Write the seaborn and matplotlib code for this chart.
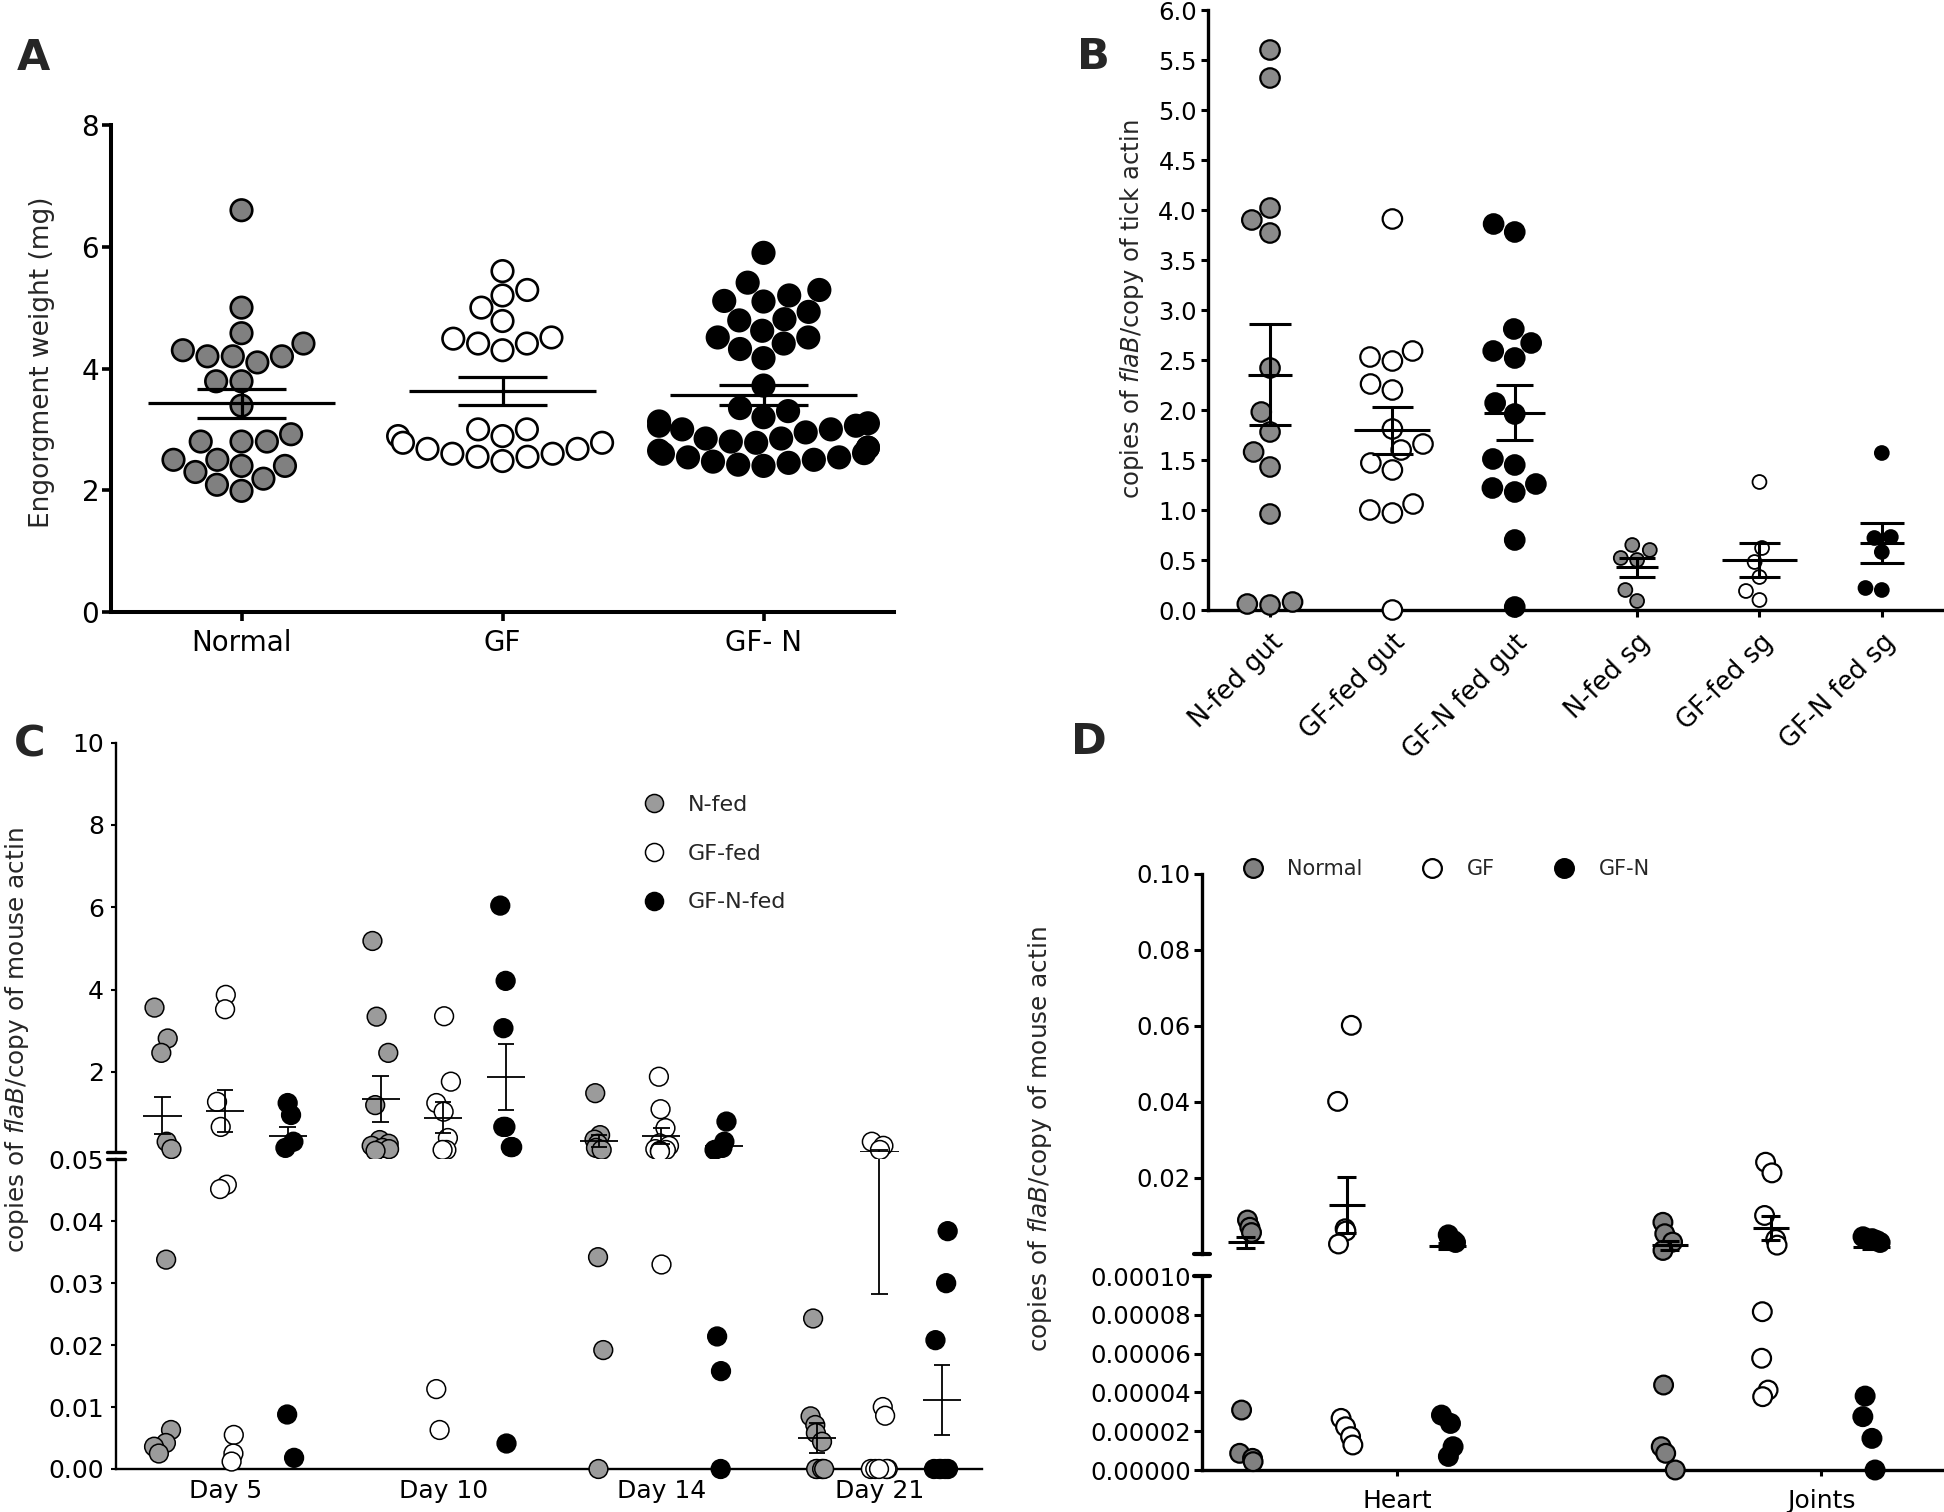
import numpy as np
import pandas as pd
import matplotlib
matplotlib.use("Agg")
import matplotlib.pyplot as plt
import seaborn as sns
from matplotlib.lines import Line2D
from matplotlib.ticker import FormatStrFormatter

sns.set_theme(style="ticks")
plt.rcParams['font.family'] = ['DejaVu Sans']
plt.rcParams['mathtext.fontset'] = 'dejavusans'
np.random.seed(7)

# ---------------- data ----------------
# Panel A: engorgement weight (mg)
A_GROUPS = ["Normal", "GF", "GF- N"]
A_NORMAL = [6.6, 5.0, 4.58, 4.41, 4.3, 4.2, 4.2, 4.2, 4.1, 3.79, 3.79, 3.39, 2.92,
            2.8, 2.8, 2.8, 2.5, 2.5, 2.4, 2.4, 2.3, 2.19, 2.09, 1.99]
A_GF = [5.6, 5.29, 5.2, 5.0, 4.78, 4.51, 4.49, 4.41, 4.41, 4.3, 3.0, 3.0, 2.89,
        2.89, 2.78, 2.78, 2.68, 2.68, 2.6, 2.6, 2.55, 2.55, 2.48]
A_GFN = [5.9, 5.41, 5.29, 5.2, 5.11, 5.1, 4.93, 4.81, 4.79, 4.62, 4.51, 4.51, 4.41,
         4.32, 4.17, 3.72, 3.35, 3.3, 3.2, 3.13, 3.1, 3.06, 3.06, 3.0, 3.0, 2.95,
         2.85, 2.85, 2.8, 2.78, 2.7, 2.7, 2.65, 2.61, 2.6, 2.54, 2.54, 2.5, 2.47,
         2.45, 2.42, 2.4]

# Panel B: copies of flaB / copy of tick actin
B_GROUPS = ["N-fed gut", "GF-fed gut", "GF-N fed gut", "N-fed sg", "GF-fed sg", "GF-N fed sg"]
B_N_GUT = [5.6, 5.32, 4.02, 3.9, 3.77, 2.42, 1.98, 1.78, 1.58, 1.43, 0.96, 0.06, 0.08, 0.05]
B_GF_GUT = [3.91, 2.59, 2.53, 2.49, 2.26, 2.2, 1.81, 1.66, 1.6, 1.47, 1.4, 1.06, 1.0, 0.97, 0.0]
B_GFN_GUT = [3.86, 3.78, 2.81, 2.67, 2.59, 2.52, 2.07, 1.96, 1.51, 1.45, 1.26, 1.22, 1.18, 0.7, 0.03]
B_N_SG = [0.6, 0.65, 0.52, 0.5, 0.2, 0.09]
B_GF_SG = [1.28, 0.62, 0.48, 0.33, 0.19, 0.1]
B_GFN_SG = [1.57, 0.73, 0.72, 0.58, 0.2, 0.22]

# Panel C: copies of flaB / copy of mouse actin, by day
C_DAYS = ["Day 5", "Day 10", "Day 14", "Day 21"]
C_SERIES = ["N-fed", "GF-fed", "GF-N-fed"]
C_NFED = [[3.56, 2.81, 2.46, 0.30, 0.12, 0.0338, 0.0063, 0.0042, 0.0036, 0.0025],
          [5.18, 3.34, 2.46, 1.19, 0.34, 0.25, 0.2, 0.15, 0.12, 0.08],
          [1.48, 0.46, 0.35, 0.25, 0.15, 0.1, 0.0342, 0.0192, 0.0],
          [0.0243, 0.0085, 0.0071, 0.0058, 0.0044, 0.0, 0.0, 0.0, 0.0, 0.0]]
C_GFFED = [[3.87, 3.52, 1.27, 0.66, 0.0459, 0.0452, 0.0055, 0.0025, 0.0012],
           [3.35, 1.76, 1.24, 1.03, 0.39, 0.1, 0.1, 0.0129, 0.0063],
           [1.88, 1.09, 0.63, 0.26, 0.2, 0.12, 0.1, 0.08, 0.06, 0.0331],
           [0.3, 0.2, 0.1, 0.01, 0.0086, 0.0, 0.0, 0.0, 0.0, 0.0]]
C_GFNFED = [[1.24, 0.95, 0.30, 0.15, 0.0088, 0.0018],
            [6.04, 4.21, 3.06, 0.66, 0.66, 0.17, 0.17, 0.0042],
            [0.79, 0.3, 0.15, 0.1, 0.0214, 0.0158, 0.0],
            [0.0384, 0.030, 0.0208, 0.0, 0.0, 0.0, 0.0, 0.0]]

# Panel D: copies of flaB / copy of mouse actin, by tissue
D_TISSUES = ["Heart", "Joints"]
D_SERIES = ["Normal", "GF", "GF-N"]
D_NORMAL = [[0.0089, 0.007, 0.0056, 0.0000309, 0.0000086, 0.000006, 0.0000043],
            [0.0083, 0.0053, 0.0031, 0.0009, 0.0000438, 0.000012, 0.0000086, 0.0]]
D_GF = [[0.0601, 0.0401, 0.0066, 0.006, 0.0026, 0.0000266, 0.0000223, 0.0000172, 0.0000129],
        [0.0241, 0.0213, 0.0101, 0.0038, 0.0023, 0.0000816, 0.0000576, 0.0000412, 0.0000378]]
D_GFN = [[0.005, 0.0042, 0.0035, 0.003, 0.0000283, 0.000024, 0.000012, 0.000007],
         [0.0045, 0.004, 0.0035, 0.003, 0.0000381, 0.0000275, 0.0000163, 0.0]]

# ---------------- styles ----------------
GREY_A, GREY_B, GREY_C, GREY_D = "#808080", "#8a8a8a", "#9b9b9b", "#808080"
W, H = 1944, 1512

fig = plt.figure(figsize=(W / 100, H / 100), dpi=100)


def rect(left, top, right, bottom):
    return [left / W, 1 - bottom / H, (right - left) / W, (bottom - top) / H]


def style_axis(ax, lw, tlen, twidth, lsize, pad):
    sns.despine(ax=ax)
    for s in ("left", "bottom"):
        ax.spines[s].set_linewidth(lw)
        ax.spines[s].set_color("black")
    ax.tick_params(axis="both", length=tlen, width=twidth, labelsize=lsize,
                   pad=pad, color="black", labelcolor="black", direction="out")
    ax.grid(False)
    ax.set_xlabel("")
    ax.set_ylabel("")


def unclip(ax, z=3):
    for c in ax.collections:
        c.set_clip_on(False)
        c.set_zorder(z)


def mean_sem(ax, x, vals, mw, cw, lw):
    v = np.asarray(vals, dtype=float)
    m = v.mean()
    s = v.std(ddof=1) / np.sqrt(len(v))
    ax.hlines(m, x - mw / 2, x + mw / 2, color="black", lw=lw, zorder=5)
    ax.vlines(x, m - s, m + s, color="black", lw=lw, zorder=5)
    ax.hlines([m - s, m + s], x - cw / 2, x + cw / 2, color="black", lw=lw, zorder=5)


# ---------------- Panel A ----------------
axA = fig.add_axes(rect(111, 125, 894, 612))
dfA = pd.DataFrame({"group": np.repeat(A_GROUPS, [len(A_NORMAL), len(A_GF), len(A_GFN)]),
                    "weight": A_NORMAL + A_GF + A_GFN})
palA = {"Normal": GREY_A, "GF": "white", "GF- N": "black"}
sns.swarmplot(data=dfA, x="group", y="weight", hue="group", order=A_GROUPS,
              palette=palA, size=15.5, edgecolor="black", linewidth=1.9,
              legend=False, ax=axA, warn_thresh=1)
unclip(axA)
for i, g in enumerate(A_GROUPS):
    mean_sem(axA, i, dfA.loc[dfA.group == g, "weight"], 0.72, 0.34, 2.3)
axA.set_xlim(-0.5, 2.5)
axA.set_ylim(0, 8)
axA.set_yticks([0, 2, 4, 6, 8])
style_axis(axA, 2.9, 6.5, 2.6, 20, 2)
axA.tick_params(axis="x", pad=6)

# ---------------- Panel B ----------------
axB = fig.add_axes(rect(1208, 10, 1943, 610))
gut_vals = [B_N_GUT, B_GF_GUT, B_GFN_GUT]
sg_vals = [B_N_SG, B_GF_SG, B_GFN_SG]
dfB_gut = pd.DataFrame({"group": np.repeat(B_GROUPS[:3], [len(v) for v in gut_vals]),
                        "value": sum(gut_vals, [])})
dfB_sg = pd.DataFrame({"group": np.repeat(B_GROUPS[3:], [len(v) for v in sg_vals]),
                       "value": sum(sg_vals, [])})
palB = dict(zip(B_GROUPS, [GREY_B, "white", "black"] * 2))
sns.swarmplot(data=dfB_gut, x="group", y="value", hue="group", order=B_GROUPS,
              palette=palB, size=14, edgecolor="black", linewidth=1.6,
              legend=False, ax=axB, warn_thresh=1)
sns.swarmplot(data=dfB_sg, x="group", y="value", hue="group", order=B_GROUPS,
              palette=palB, size=10, edgecolor="black", linewidth=1.3,
              legend=False, ax=axB, warn_thresh=1)
unclip(axB)
MEAN_W_B = [0.36, 0.62, 0.5, 0.34, 0.62, 0.36]
CAP_W_B = [0.34, 0.34, 0.3, 0.3, 0.34, 0.36]
for i, v in enumerate(gut_vals + sg_vals):
    mean_sem(axB, i, v, MEAN_W_B[i], CAP_W_B[i], 2.2)
axB.set_xlim(-0.507, 5.5)
axB.set_ylim(0, 6)
axB.set_yticks(np.arange(0, 6.01, 0.5))
axB.yaxis.set_major_formatter(FormatStrFormatter("%.1f"))
style_axis(axB, 2.4, 5, 2.2, 17.5, 3)
axB.set_xticks(range(len(B_GROUPS)))
axB.set_xticklabels(B_GROUPS, rotation=45, ha="right", rotation_mode="anchor")
axB.tick_params(axis="x", pad=9, labelsize=18.5)

# ---------------- Panel C ----------------
rows = []
for si, (name, series) in enumerate(zip(C_SERIES, [C_NFED, C_GFFED, C_GFNFED])):
    for di, vals in enumerate(series):
        for v in vals:
            rows.append((di + (si - 1) * 0.287, name, v, di))
dfC = pd.DataFrame(rows, columns=["xpos", "series", "value", "day"])
palC = dict(zip(C_SERIES, [GREY_C, "white", "black"]))
C_BREAK = 0.05
axCu = fig.add_axes(rect(116, 742.7, 982, 1152))
axCl = fig.add_axes(rect(116, 1159.3, 982, 1469))
for ax, sub in ((axCu, dfC[dfC.value > C_BREAK]), (axCl, dfC[dfC.value <= C_BREAK])):
    sns.stripplot(data=sub, x="xpos", y="value", hue="series", hue_order=C_SERIES,
                  palette=palC, native_scale=True, orient="x", jitter=0.15,
                  size=13.5, edgecolor="black", linewidth=1.1, legend=False, ax=ax)
    unclip(ax)
    for (di, si_name), g in dfC.groupby(["day", "series"]):
        x = di + (C_SERIES.index(si_name) - 1) * 0.287
        mean_sem(ax, x, g.value, 0.175, 0.075, 1.3)
    ax.set_xlim(-0.5, 3.47)
axCu.set_ylim(C_BREAK, 10)
axCu.set_yticks([2, 4, 6, 8, 10])
axCl.set_ylim(0, C_BREAK)
axCl.set_yticks([0, 0.01, 0.02, 0.03, 0.04, 0.05])
axCl.yaxis.set_major_formatter(FormatStrFormatter("%.2f"))
style_axis(axCu, 1.7, 3.5, 1.5, 18, 5)
style_axis(axCl, 1.7, 3.5, 1.5, 18, 5)
axCu.spines["bottom"].set_visible(False)
axCu.tick_params(axis="x", bottom=False, labelbottom=False)
axCl.set_xticks(range(len(C_DAYS)))
axCl.set_xticklabels(C_DAYS)
axCl.tick_params(axis="x", length=0, pad=7)
axCu.plot([-0.01, 0.01], [0, 0], transform=axCu.transAxes, color="black", lw=2.4, clip_on=False)
axCl.plot([-0.01, 0.01], [1, 1], transform=axCl.transAxes, color="black", lw=2.4, clip_on=False)

# ---------------- Panel D ----------------
rows = []
for si, (name, series) in enumerate(zip(D_SERIES, [D_NORMAL, D_GF, D_GFN])):
    for ti, vals in enumerate(series):
        for v in vals:
            rows.append((ti + (si - 1.5) * 0.238, name, v, ti))
dfD = pd.DataFrame(rows, columns=["xpos", "series", "value", "tissue"])
palD = dict(zip(D_SERIES, [GREY_D, "white", "black"]))
D_BREAK = 0.0001
axDu = fig.add_axes(rect(1202, 873.6, 1944, 1253.5))
axDl = fig.add_axes(rect(1202, 1276, 1944, 1470))
for ax, sub in ((axDu, dfD[dfD.value > D_BREAK]), (axDl, dfD[dfD.value <= D_BREAK])):
    sns.stripplot(data=sub, x="xpos", y="value", hue="series", hue_order=D_SERIES,
                  palette=palD, native_scale=True, orient="x", jitter=0.09,
                  size=13.5, edgecolor="black", linewidth=1.6, legend=False, ax=ax)
    unclip(ax)
    for (ti, si_name), g in dfD.groupby(["tissue", "series"]):
        x = ti + (D_SERIES.index(si_name) - 1.5) * 0.238
        mean_sem(ax, x, g.value, 0.085, 0.045, 2.2)
    ax.set_xlim(-0.46, 1.29)
axDu.set_ylim(D_BREAK, 0.1)
axDu.set_yticks([0.02, 0.04, 0.06, 0.08, 0.10])
axDu.yaxis.set_major_formatter(FormatStrFormatter("%.2f"))
axDl.set_ylim(0, D_BREAK)
axDl.set_yticks([0, 0.00002, 0.00004, 0.00006, 0.00008, 0.0001])
axDl.yaxis.set_major_formatter(FormatStrFormatter("%.5f"))
style_axis(axDu, 2.4, 6, 2.2, 17.5, 2)
style_axis(axDl, 2.4, 6, 2.2, 17.5, 2)
axDu.spines["bottom"].set_visible(False)
axDu.tick_params(axis="x", bottom=False, labelbottom=False)
axDl.set_xticks(range(len(D_TISSUES)))
axDl.set_xticklabels(D_TISSUES)
axDl.tick_params(axis="x", length=4, pad=10, labelsize=18)
axDu.plot([-0.011, 0.011], [0, 0], transform=axDu.transAxes, color="black", lw=3, clip_on=False)
axDl.plot([-0.011, 0.011], [1, 1], transform=axDl.transAxes, color="black", lw=3, clip_on=False)

# ---------------- labels, legends ----------------
fig.text(42 / W, 1 - 362 / H, "Engorgment weight (mg)", rotation=90, ha="center",
         va="center", fontsize=19)
fig.text(1132 / W, 1 - 309 / H, r"copies of $\it{flaB}$/copy of tick actin", rotation=90,
         ha="center", va="center", fontsize=17.5)
fig.text(17 / W, 1 - 1040 / H, r"copies of $\it{flaB}$/copy of mouse actin", rotation=90,
         ha="center", va="center", fontsize=17.8)
fig.text(1040 / W, 1 - 1139 / H, r"copies of $\it{flaB}$/copy of mouse actin", rotation=90,
         ha="center", va="center", fontsize=17.8)

for letter, (x, y) in {"A": (33, 58), "B": (1093, 57), "C": (30, 745), "D": (1089, 742)}.items():
    fig.text(x / W, 1 - y / H, letter, ha="center", va="center", fontsize=31, fontweight="bold")

hC = [Line2D([], [], marker="o", ls="none", markersize=13, markerfacecolor=c,
             markeredgecolor="black", markeredgewidth=1.1) for c in [GREY_C, "white", "black"]]
fig.legend(hC, C_SERIES, loc="center left", bbox_to_anchor=(637 / W, 1 - 853.5 / H),
           frameon=False, fontsize=16, handlelength=1.5, handletextpad=0.8,
           labelspacing=1.3, borderpad=0, borderaxespad=0)
hD = [Line2D([], [], marker="o", ls="none", markersize=13.5, markerfacecolor=c,
             markeredgecolor="black", markeredgewidth=1.6) for c in [GREY_D, "white", "black"]]
fig.legend(hD, D_SERIES, loc="center left", bbox_to_anchor=(1237 / W, 1 - 869 / H), ncol=3,
           frameon=False, fontsize=15, handlelength=1.5, handletextpad=0.9,
           columnspacing=2.6, borderpad=0, borderaxespad=0)

# unclipped marker collections must not leak a point into the figure corner
fig.canvas.draw()
for ax in fig.axes:
    for c in ax.collections:
        offs = np.asarray(c.get_offsets(), dtype=float)
        if offs.size == 0:
            c.set_visible(False)
            continue
        disp = c.get_offset_transform().transform(offs)
        if np.any((disp[:, 0] < 40) & (disp[:, 1] < 40)):
            c.set_clip_on(True)

fig.savefig("out.png", dpi=100)
